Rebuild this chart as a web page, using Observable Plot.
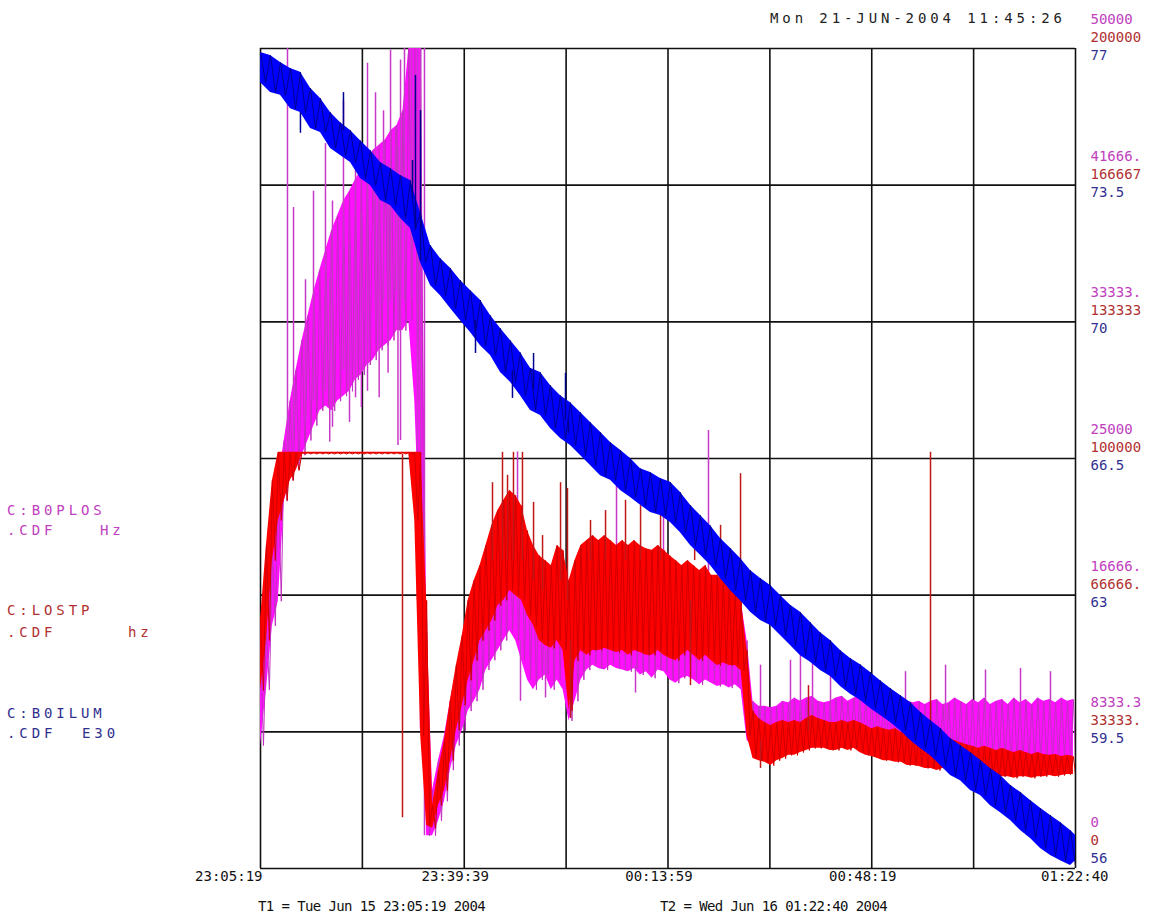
<!DOCTYPE html>
<html><head><meta charset="utf-8">
<script src="https://cdn.jsdelivr.net/npm/d3@7"></script>
<script src="https://cdn.jsdelivr.net/npm/@observablehq/plot@0.6"></script>
<style>
body{margin:0;background:#fff;}
#wrap{position:relative;width:1166px;height:918px;overflow:hidden;background:#fff;}
.wide{position:absolute;font-family:"DejaVu Sans Mono",monospace;font-size:14px;letter-spacing:3.9px;white-space:pre;line-height:14px;}
.narrow{position:absolute;font-family:"DejaVu Sans Mono",monospace;font-size:14px;letter-spacing:-0.6px;white-space:pre;line-height:14px;color:#111;}
#wrap svg g[aria-label="rlabel"] text{letter-spacing:3.3px;}
#wrap svg g[aria-label="xlabel"] text{letter-spacing:-0.6px;}
</style></head><body><div id="wrap"></div>
<script>
// ---------- data ----------
const T_END = 8241;            // seconds from T1 (23:05:19) to T2 (01:22:40)
const SAMPLE_STEP = 60;        // magenta / red samples every minute
const BLUE_STEP = 101.12;      // blue samples

// C:B0PLOS (Hz) envelope, upper / lower
const magHi = [13900,14800,19400,23700,26100,28500,30400,32200,33700,35200,
36500,37700,38900,39800,40700,41300,42000,42600,43200,43800,
44100,44400,45000,45300,46200,50000,50000,50000,15100,4800,
6600,8100,10200,12100,13600,15100,16300,17600,18500,19400,
20000,20600,21200,20900,20600,20000,19100,18800,18500,18200,
18800,18500,16300,17600,18800,19100,19400,19300,19500,19400,
19300,19400,19100,19400,19100,18900,18800,19000,18800,18500,
18300,18000,18200,17900,17700,18000,17600,17600,17300,17000,
16600,16300,13900,10200,9900,9900,9800,9900,10200,10100,
10400,10200,10400,10500,10200,10100,10200,10400,10500,10200,
10400,10500,10500,10400,10500,10200,10400,10200,10400,10200,
10100,10200,10000,10200,10300,10000,10100,10400,10200,10000,
10300,10100,10400,10000,10200,10300,10000,10400,10100,10300,
10000,10400,10200,10300,10100,10400,10200,10300];
const magLo = [7500,10900,14800,16300,22400,23700,24300,25200,26100,27000,
27900,28200,27900,28500,28800,29100,29800,30100,30700,31000,
31600,31900,32200,32800,32800,33400,28500,18800,2000,2000,
2900,4100,6000,7500,8400,9600,10200,10900,12100,12700,
13300,13900,14500,13900,12700,11500,10900,11500,11800,10900,
11500,10900,9000,10200,11500,12100,12400,12200,12100,12400,
12200,12100,12000,12200,11800,12000,11600,12100,12000,11500,
11300,11600,11700,11500,11200,11500,11300,11100,11200,11000,
11200,10900,7800,7500,7200,7100,6900,7100,7200,7300,
7400,7500,7700,7800,7700,7600,7500,7700,7800,7700,
7800,7700,7500,7500,7300,7300,7200,7200,7100,7200,
7100,7000,7000,6900,6800,6900,6700,6700,6600,6600,
6500,6500,6600,6500,6500,6600,6500,6600,6500,6600,
6500,6600,6500,6600,6600,6700,6600,6700];

// C:LOSTP (hz) envelope, upper / lower
const redHi = [60500,78800,94600,101500,101500,101500,101500,
101500,101500,101500,101500,101500,101500,101500,101500,101500,101500,
101500,101500,101500,101500,101500,101500,101500,101500,101500,
101500,101500,
65400,15400,23900,31200,41000,49500,56800,65400,70200,73900,
78800,83700,87300,89800,92200,91000,88500,82400,78800,76300,
75100,73900,78800,77600,70200,75100,78800,80000,81200,80000,
81200,80000,78800,80000,78800,80000,78800,78000,77600,78800,
77600,76300,75100,73900,75100,73900,72700,73900,71500,71500,
70200,69000,67800,65400,53200,38500,36600,35600,34900,35600,
36100,35600,36100,35600,36600,37300,36600,36100,35600,35600,
36100,35600,36100,35600,34900,34100,34600,34100,33700,34100,
33200,33700,32700,32400,32900,32200,31700,32200,31700,31200,
30700,30200,29800,29300,29800,29300,28800,29300,28800,28300,
28800,28300,27800,28300,27800,27600,27800,27300,27600,27300];
const redLo = [43400,55600,75100,84900,89800,94600,97100,
101100,101100,101100,101100,101100,101100,101100,101100,101100,101100,
101100,101100,101100,101100,101100,101100,101100,101100,101100,
84900,32400,
10500,9800,15400,19000,26300,33700,39800,45900,50700,55600,
58000,60500,64100,65400,67800,66600,65400,61700,59300,55600,
54400,53700,55600,53200,38500,50700,53200,52000,53200,53200,
53700,53200,52700,53200,52000,53200,52700,52000,52000,53200,
52000,51200,50700,52000,53200,52000,50700,52000,50700,49500,
50200,49500,49500,48300,32400,26800,26300,25900,25100,26300,
26800,27600,27600,28300,28800,29300,29300,29300,28800,28800,
29300,28800,29300,28300,27600,27300,26800,26300,26300,25900,
25900,25100,25100,24900,24400,24400,23900,24400,23900,23400,
22900,22700,22400,22000,22400,22000,22000,22400,22400,22000,
22400,22400,22000,22400,22400,22700,22400,22700,22900,22900];

// C:B0ILUM (E30) envelope, upper / lower
const blueHi = [76.90,76.82,76.64,76.49,76.39,75.98,75.72,75.36,75.10,74.90,
74.64,74.39,74.08,73.93,73.75,73.62,72.80,71.96,71.62,71.37,
71.06,70.80,70.55,70.16,69.83,69.52,69.21,68.81,68.70,68.37,
68.11,67.93,67.68,67.42,67.17,66.91,66.71,66.50,66.24,66.14,
65.99,65.89,65.63,65.30,65.04,64.78,64.45,64.20,63.94,63.63,
63.43,63.25,62.99,62.74,62.56,62.30,62.04,61.84,61.58,61.38,
61.22,61.02,60.81,60.61,60.43,60.25,60.00,59.79,59.59,59.33,
59.15,58.97,58.77,58.56,58.38,58.13,57.95,57.74,57.54,57.36,
57.18,56.97,56.85];
const blueLo = [76.13,75.87,75.80,75.46,75.36,74.95,74.85,74.44,74.26,74.08,
73.67,73.49,73.11,72.98,72.65,72.39,71.52,70.93,70.67,70.34,
70.03,69.73,69.39,69.14,68.70,68.45,68.11,67.73,67.60,67.27,
67.01,66.83,66.58,66.32,66.06,65.94,65.68,65.50,65.30,65.12,
65.04,64.86,64.60,64.27,64.02,63.76,63.43,63.12,62.86,62.56,
62.35,62.22,61.97,61.71,61.45,61.28,61.07,60.92,60.66,60.46,
60.30,60.10,59.92,59.74,59.53,59.28,59.07,58.89,58.64,58.38,
58.25,58.00,57.87,57.61,57.43,57.23,56.97,56.77,56.51,56.33,
56.20,56.08,56.20];

// isolated spikes: time (s), from value, to value
const magSpikeT = [273,334,455,536,657,728,839,961,1082,1163,1244,1315,1365,1416,1456,1527,1588,1618,1658,
2599,3600,4075,4530,2629,2882,3792,5056,5359,5460,5582,5764,6067,6522,6927,7331,7685,7988,
700,900,1020,1200,1290,1390];
const magSpikeFrom = [24900,26100,27300,28500,29100,26900,30400,28700,29100,33400,34600,34600,35200,26100,34600,34600,16300,8500,2000,
16300,15100,15100,15100,13900,13300,12400,9000,9000,9000,9000,9000,9000,9000,9000,9000,9000,9000,
36000,38000,40000,42000,43000,44000];
const magSpikeTo = [50000,40300,35900,41300,44200,40700,46800,43800,49100,47300,46200,49900,45200,49300,50000,50000,50000,50000,50000,
25400,24400,21700,26700,10200,10400,10700,12400,12700,13400,13900,12200,12100,12000,12400,12100,12200,12000,
26000,27200,28100,28700,30200,25800];

const redSpikeT = [1436,2346,2447,2498,2558,2649,2761,2852,3034,3104,3135,3337,3489,3691,3843,4045,4348,4390,4652,4854,5056,5541,6775];
const redSpikeFrom = [101000,75100,75100,75100,75100,75100,70200,67800,70200,65400,55600,75100,75100,75100,75100,75100,65400,75100,70200,65400,31200,33700,31200];
const redSpikeTo = [12400,94100,101500,95900,101500,101500,89300,81200,94100,92700,36600,84900,87300,89800,88500,86100,44600,84900,83700,96300,24400,44600,101500];

const blueSpikeT = [404,839,1537,1567,1618,2174,2548,2761,3084,3114];
const blueSpikeFrom = [75.36,74.90,73.11,72.34,71.57,70.03,68.75,68.24,67.47,67.47];
const blueSpikeTo = [74.83,75.87,74.13,76.31,75.41,69.19,68.04,69.19,68.68,67.14];

// axes
const xTicks = [0, 2060, 4120, 6180, 8241];
const xTickLabels = ["23:05:19","23:39:39","00:13:59","00:48:19","01:22:40"];
const gridLevels = [6,5,4,3,2,1,0];
const magLabels  = ["50000","41666.","33333.","25000","16666.","8333.3","0"];
const redLabels  = ["200000","166667","133333","100000","66666.","33333.","0"];
const blueLabels = ["77","73.5","70","66.5","63","59.5","56"];

// ---------- build ----------
const gM = v => v / (50000/6);
const gR = v => v / (200000/6);
const gB = v => (v - 56) / 3.5;

const rowsOf = (hi, lo, step) => hi.map((h,i)=>({t: Math.min(i*step, T_END), hi: h, lo: lo[i]}));
const zig = (rows, step) => rows.flatMap(d => [{t:d.t, v:d.hi}, {t:Math.min(d.t + step/2, T_END), v:d.lo}]);
const spikes = (T, A, B) => T.map((t,i)=>({t, a:A[i], b:B[i]}));

const magRows = rowsOf(magHi, magLo, SAMPLE_STEP);
const redRows = rowsOf(redHi, redLo, SAMPLE_STEP);
const blueRows = rowsOf(blueHi, blueLo, BLUE_STEP);
const gridT = d3.range(9).map(k => k*T_END/8);
const labelRows = gridLevels.map((g,i)=>({g, m:magLabels[i], r:redLabels[i], b:blueLabels[i]}));
const xRows = xTicks.map((t,i)=>({t, s:xTickLabels[i]}));

const FONT = "DejaVu Sans Mono";
const cM = "#c040c0", cR = "#b03030", cB = "#303090";
const rl = (data, key, dy, fill) => Plot.text(data, {y:"g", text:key, frameAnchor:"right", textAnchor:"start", dx:15, dy, fill, fontFamily:FONT, fontSize:14, ariaLabel:"rlabel"});
const top6 = labelRows.filter(d=>d.g>0), bottom = labelRows.filter(d=>d.g===0);

const chart = Plot.plot({
  width: 1166, height: 918,
  marginLeft: 260, marginRight: 91, marginTop: 48, marginBottom: 50,
  x: {domain: [0, T_END], axis: null},
  y: {domain: [0, 6], axis: null},
  style: {background: "transparent", overflow: "visible"},
  marks: [
    Plot.ruleY(d3.range(7), {stroke:"#111", strokeWidth:1.6}),
    Plot.ruleX(gridT, {stroke:"#111", strokeWidth:1.6}),
    // magenta
    Plot.areaY(magRows, {x:"t", y1:d=>gM(d.lo), y2:d=>gM(d.hi), fill:"#ff10ff", clip:true}),
    Plot.line(zig(magRows, SAMPLE_STEP), {x:"t", y:d=>gM(d.v), stroke:"#c030c0", strokeWidth:1, clip:true}),
    Plot.ruleX(spikes(magSpikeT, magSpikeFrom, magSpikeTo), {x:"t", y1:d=>gM(d.a), y2:d=>gM(d.b), stroke:"#c838c8", strokeWidth:1.5, clip:true}),
    // red
    Plot.areaY(redRows, {x:"t", y1:d=>gR(d.lo), y2:d=>gR(d.hi), fill:"#ff0000", clip:true}),
    Plot.line(zig(redRows, SAMPLE_STEP), {x:"t", y:d=>gR(d.v), stroke:"#d00000", strokeWidth:1, clip:true}),
    Plot.ruleX(spikes(redSpikeT, redSpikeFrom, redSpikeTo), {x:"t", y1:d=>gR(d.a), y2:d=>gR(d.b), stroke:"#c01818", strokeWidth:1.5, clip:true}),
    // blue
    Plot.areaY(blueRows, {x:"t", y1:d=>gB(d.lo), y2:d=>gB(d.hi), fill:"#0000ff", clip:true}),
    Plot.line(zig(blueRows, BLUE_STEP), {x:"t", y:d=>gB(d.v), stroke:"#00008c", strokeWidth:1, clip:true}),
    Plot.ruleX(spikes(blueSpikeT, blueSpikeFrom, blueSpikeTo), {x:"t", y1:d=>gB(d.a), y2:d=>gB(d.b), stroke:"#000090", strokeWidth:1.5, clip:true}),
    // right-hand scale labels
    rl(top6, "m", -29, cM), rl(top6, "r", -11, cR), rl(top6, "b", 7, cB),
    rl(bottom, "m", -46, cM), rl(bottom, "r", -28, cR), rl(bottom, "b", -10, cB),
    // time labels
    Plot.text(xRows.slice(0,1), {x:"t", text:"s", frameAnchor:"bottom", textAnchor:"end", dx:2, dy:12, fill:"#111", fontFamily:FONT, fontSize:14, ariaLabel:"xlabel"}),
    Plot.text(xRows.slice(1,4), {x:"t", text:"s", frameAnchor:"bottom", textAnchor:"middle", dx:-9, dy:12, fill:"#111", fontFamily:FONT, fontSize:14, ariaLabel:"xlabel"}),
    Plot.text(xRows.slice(4), {x:"t", text:"s", frameAnchor:"bottom", textAnchor:"end", dx:33, dy:12, fill:"#111", fontFamily:FONT, fontSize:14, ariaLabel:"xlabel"})
  ]
});

const wrap = document.getElementById("wrap");
wrap.append(chart);
chart.style.position = "absolute"; chart.style.left = "0px"; chart.style.top = "0px";

function addText(cls, txt, left, top, color){
  const d = document.createElement("div");
  d.className = cls; d.textContent = txt;
  d.style.left = left + "px"; d.style.top = top + "px";
  if (color) d.style.color = color;
  wrap.append(d);
}
addText("wide", "Mon 21-JUN-2004 11:45:26", 770, 11, "#222");
addText("wide", "C:B0PLOS", 7, 503, cM);
addText("wide", ".CDF", 7, 523, cM);
addText("wide", "Hz", 100, 523, cM);
addText("wide", "C:LOSTP", 7, 603, cR);
addText("wide", ".CDF", 7, 625, cR);
addText("wide", "hz", 128, 625, cR);
addText("wide", "C:B0ILUM", 7, 706, cB);
addText("wide", ".CDF", 7, 726, cB);
addText("wide", "E30", 82, 726, cB);
addText("narrow", "T1 = Tue Jun 15 23:05:19 2004", 258, 899);
addText("narrow", "T2 = Wed Jun 16 01:22:40 2004", 660, 899);
</script></body></html>
